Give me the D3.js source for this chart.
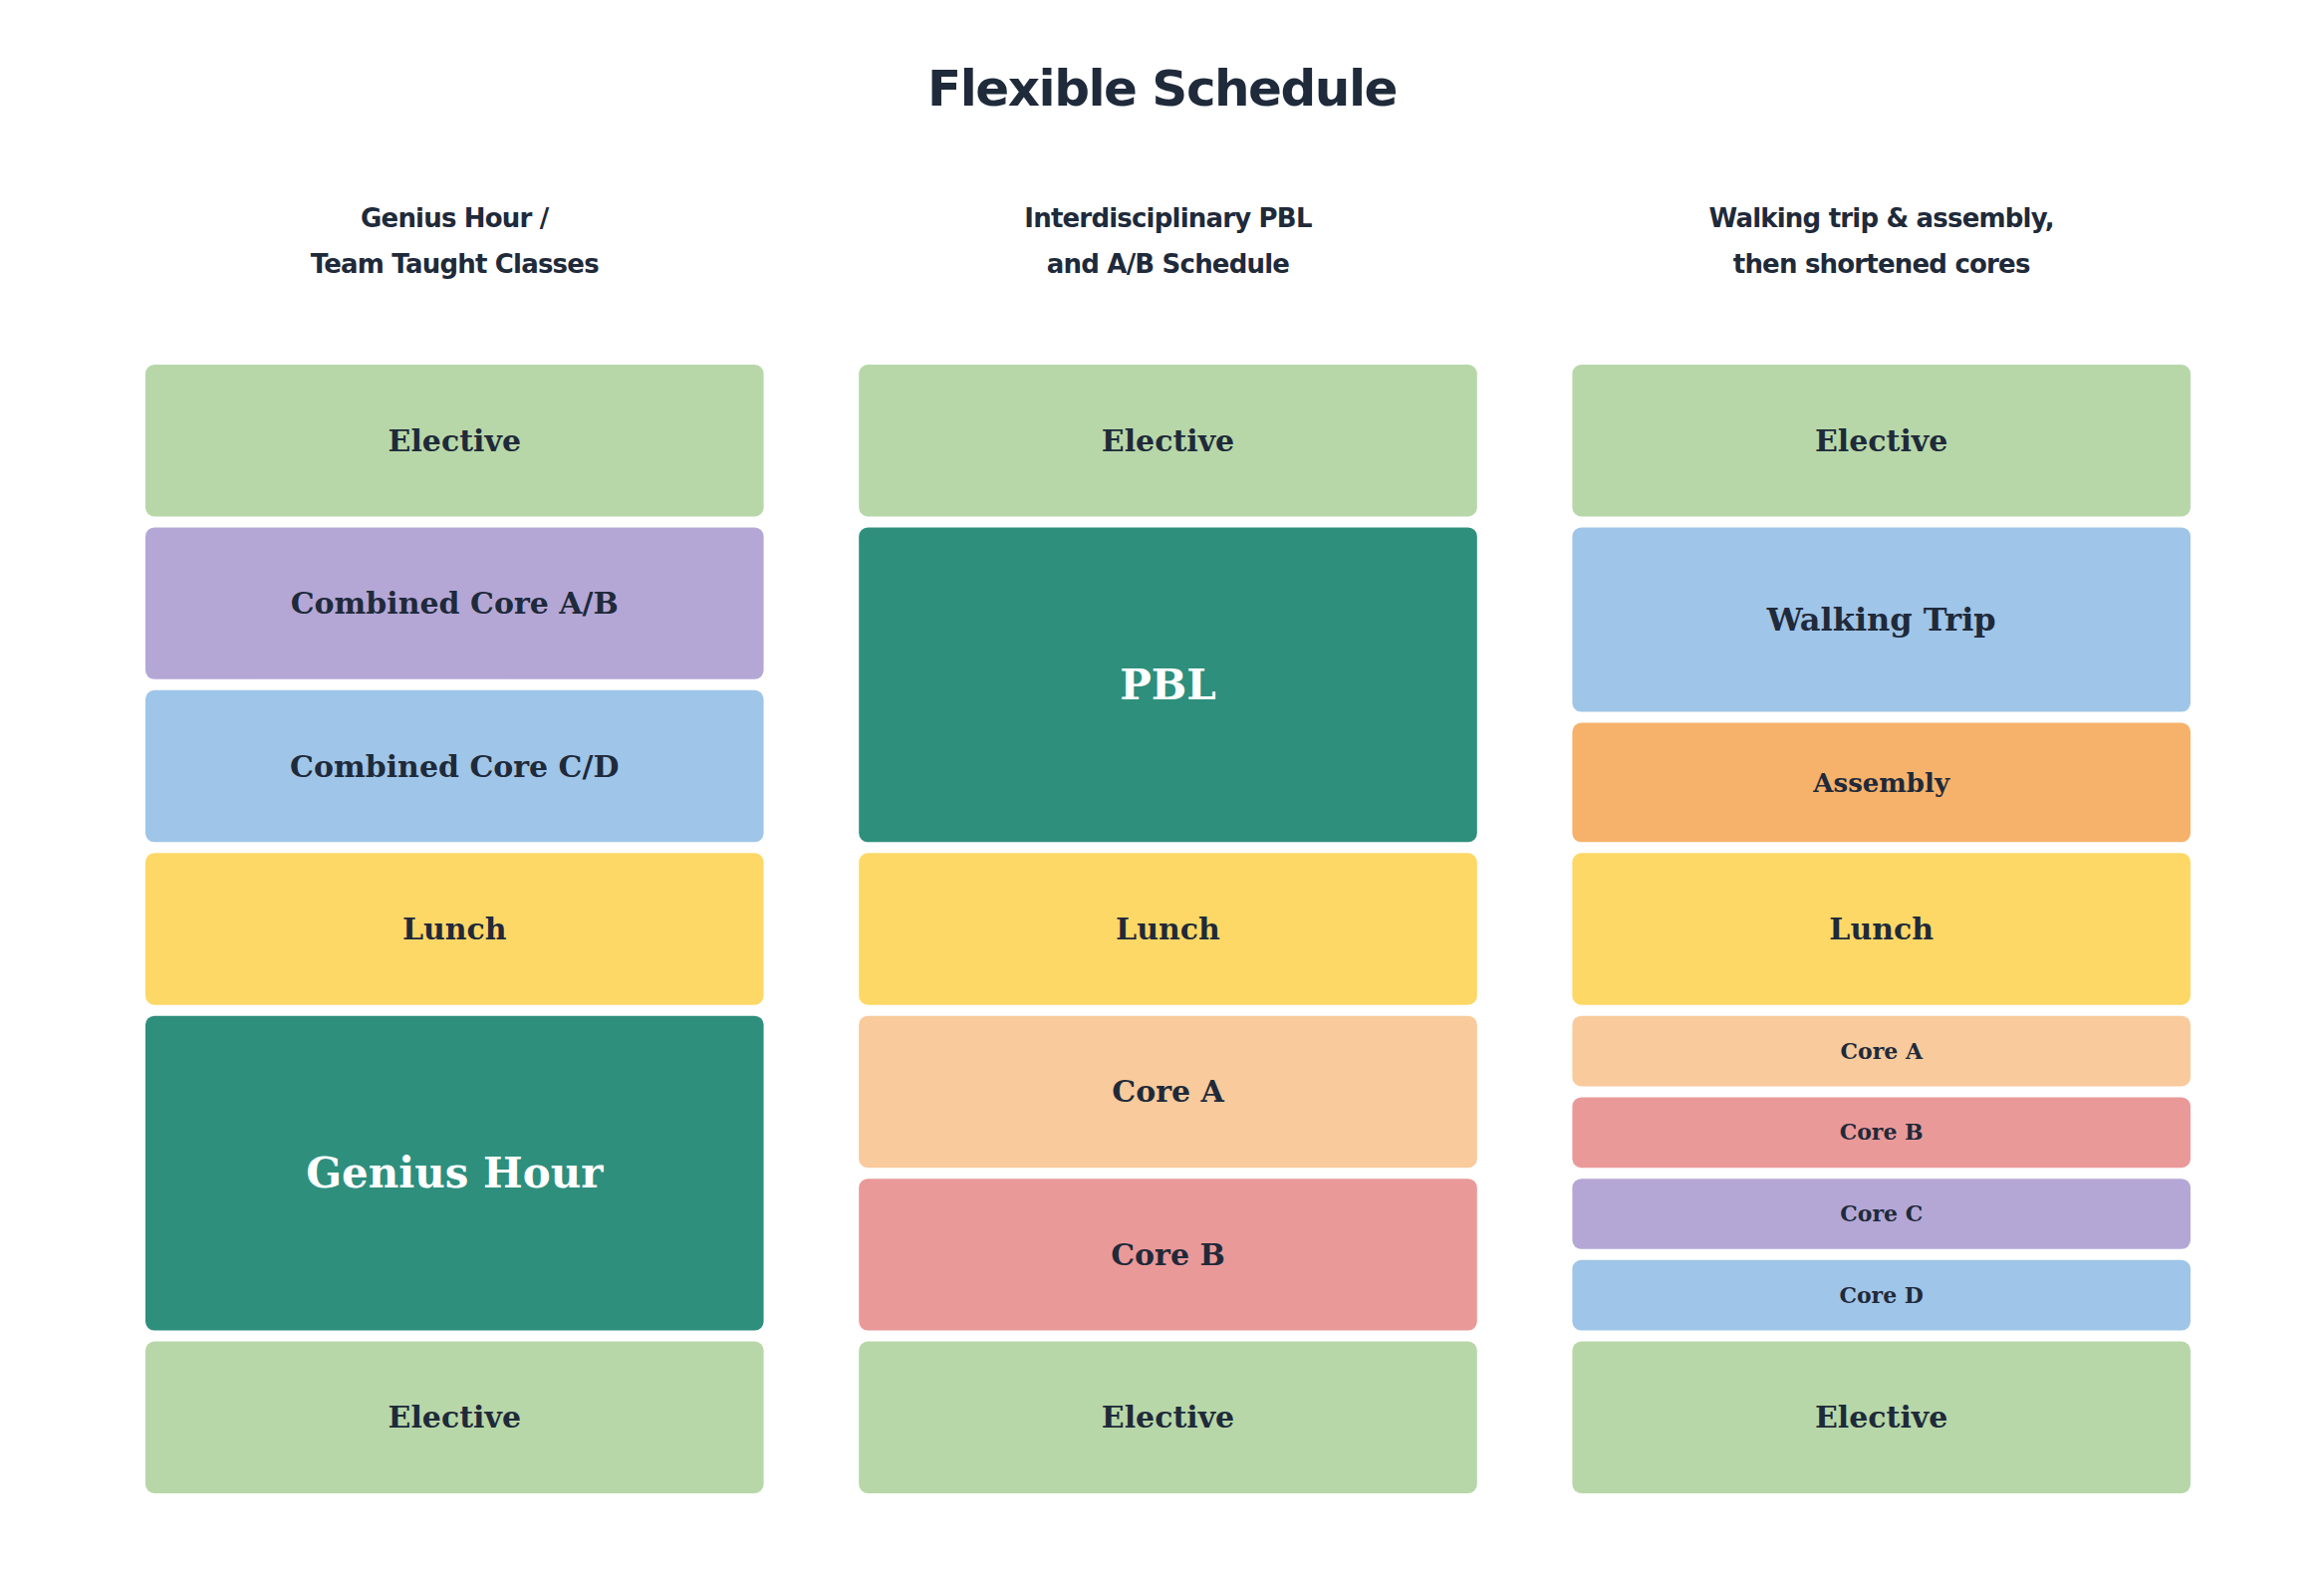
<!DOCTYPE html>
<html><head><meta charset="utf-8">
<script src="https://cdn.jsdelivr.net/npm/d3@7"></script>
<style>body{margin:0;background:#fff}</style>
</head><body>
<script>
const columns = ["Genius Hour /\nTeam Taught Classes", "Interdisciplinary PBL\nand A/B Schedule", "Walking trip & assembly,\nthen shortened cores"];
// blocks per column: [label, duration in slots, colour key, font size]
const col1 = [["Elective",1,"green",30],["Combined Core A/B",1,"purple",30],["Combined Core C/D",1,"blue",30],["Lunch",1,"yellow",30],["Genius Hour",2,"teal",42],["Elective",1,"green",30]];
const col2 = [["Elective",1,"green",30],["PBL",2,"teal",42],["Lunch",1,"yellow",30],["Core A",1,"peach",30],["Core B",1,"pink",30],["Elective",1,"green",30]];
const col3 = [["Elective",1,"green",30],["Walking Trip",1.2,"blue",32],["Assembly",0.8,"orange",26],["Lunch",1,"yellow",30],["Core A",0.5,"peach",22],["Core B",0.5,"pink",22],["Core C",0.5,"purple",22],["Core D",0.5,"blue",22],["Elective",1,"green",30]];
const palette = {green:"#b7d7a8",purple:"#b4a7d6",blue:"#9fc5e8",yellow:"#fdd866",teal:"#2e8f7d",peach:"#f8ca9c",pink:"#ea9999",orange:"#f6b26b"};

const W = 2333, H = 1583, ink = "#1f2a3a", gap = 11;
const svg = d3.select("body").append("svg").attr("width", W).attr("height", H);

const x = d3.scaleBand().domain(d3.range(3)).range([146, 2199]).paddingInner(0.1335);
const y = d3.scaleLinear().domain([0, 7]).range([366, 1510]);

svg.append("text").attr("x", W/2).attr("y", 106).attr("text-anchor","middle")
  .attr("font-family","'DejaVu Sans', sans-serif").attr("font-weight","bold")
  .attr("font-size",50).attr("letter-spacing","-1.5").attr("fill",ink).text("Flexible Schedule");

[col1, col2, col3].forEach((blocks, ci) => {
  const g = svg.append("g");
  const hx = x(ci) + x.bandwidth()/2;
  columns[ci].split("\n").forEach((line, li) => {
    g.append("text").attr("x", hx).attr("y", 228 + li*46).attr("text-anchor","middle")
      .attr("font-family","'DejaVu Sans', sans-serif").attr("font-weight","bold")
      .attr("font-size",26).attr("letter-spacing","-0.8").attr("fill",ink).text(line);
  });
  let t = 0;
  blocks.forEach(([label, dur, c, fs]) => {
    const y0 = y(t), y1 = y(t + dur) - gap;
    t += dur;
    g.append("rect").attr("x", x(ci)).attr("y", y0).attr("width", x.bandwidth())
      .attr("height", y1 - y0).attr("rx", 9).attr("fill", palette[c]);
    g.append("text").attr("x", hx).attr("y", (y0 + y1)/2).attr("dy","0.35em")
      .attr("text-anchor","middle").attr("font-family","'DejaVu Serif', serif")
      .attr("font-weight","bold").attr("font-size", fs)
      .attr("fill", c === "teal" ? "#ffffff" : ink).text(label);
  });
});
</script>
</body></html>
